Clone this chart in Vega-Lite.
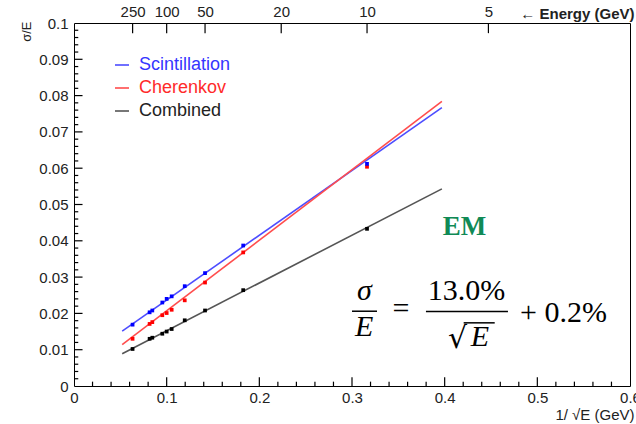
{
  "$schema": "https://vega.github.io/schema/vega-lite/v6.json",
  "width": 556,
  "height": 363,
  "autosize": {"type": "none"},
  "padding": {"left": 74, "top": 23, "right": 6, "bottom": 38},
  "background": "white",
  "config": {
    "view": {"stroke": "#000000", "strokeWidth": 1},
    "axis": {
      "labelFont": "Liberation Sans",
      "titleFont": "Liberation Sans",
      "grid": false,
      "domain": false,
      "ticks": false,
      "labelColor": "#222222",
      "titleColor": "#222222",
      "labelFontSize": 15,
      "titleFontWeight": "normal",
      "labelFlush": false,
      "labelOverlap": false
    }
  },
  "datasets": {
    "fits": [
      {"series": "Scintillation", "x": 0.052, "v": 0.0151},
      {"series": "Scintillation", "x": 0.397, "v": 0.0767},
      {"series": "Cherenkov", "x": 0.052, "v": 0.0114},
      {"series": "Cherenkov", "x": 0.397, "v": 0.0784},
      {"series": "Combined", "x": 0.052, "v": 0.0089},
      {"series": "Combined", "x": 0.397, "v": 0.0543}
    ],
    "pts": [
      {"series": "Combined", "x": 0.0632, "v": 0.0102, "lo": 0.0101, "hi": 0.0103},
      {"series": "Combined", "x": 0.0816, "v": 0.0130, "lo": 0.0129, "hi": 0.0131},
      {"series": "Combined", "x": 0.0845, "v": 0.0133, "lo": 0.0132, "hi": 0.0134},
      {"series": "Combined", "x": 0.0953, "v": 0.0144, "lo": 0.0143, "hi": 0.0145},
      {"series": "Combined", "x": 0.1, "v": 0.0150, "lo": 0.0149, "hi": 0.0151},
      {"series": "Combined", "x": 0.1054, "v": 0.0157, "lo": 0.0156, "hi": 0.0158},
      {"series": "Combined", "x": 0.1195, "v": 0.0181, "lo": 0.0180, "hi": 0.0182},
      {"series": "Combined", "x": 0.1414, "v": 0.0208, "lo": 0.0207, "hi": 0.0209},
      {"series": "Combined", "x": 0.1826, "v": 0.0264, "lo": 0.0263, "hi": 0.0265},
      {"series": "Combined", "x": 0.3162, "v": 0.0433, "lo": 0.0431, "hi": 0.0435},
      {"series": "Cherenkov", "x": 0.0632, "v": 0.0130, "lo": 0.0129, "hi": 0.0131},
      {"series": "Cherenkov", "x": 0.0816, "v": 0.0171, "lo": 0.0170, "hi": 0.0172},
      {"series": "Cherenkov", "x": 0.0845, "v": 0.0176, "lo": 0.0175, "hi": 0.0177},
      {"series": "Cherenkov", "x": 0.0953, "v": 0.0195, "lo": 0.0194, "hi": 0.0196},
      {"series": "Cherenkov", "x": 0.1, "v": 0.0201, "lo": 0.0200, "hi": 0.0202},
      {"series": "Cherenkov", "x": 0.1054, "v": 0.0210, "lo": 0.0209, "hi": 0.0211},
      {"series": "Cherenkov", "x": 0.1195, "v": 0.0236, "lo": 0.0235, "hi": 0.0237},
      {"series": "Cherenkov", "x": 0.1414, "v": 0.0285, "lo": 0.0284, "hi": 0.0286},
      {"series": "Cherenkov", "x": 0.1826, "v": 0.0368, "lo": 0.0366, "hi": 0.0370},
      {"series": "Cherenkov", "x": 0.3162, "v": 0.0604, "lo": 0.0601, "hi": 0.0607},
      {"series": "Scintillation", "x": 0.0632, "v": 0.0169, "lo": 0.0168, "hi": 0.0170},
      {"series": "Scintillation", "x": 0.0816, "v": 0.0203, "lo": 0.0202, "hi": 0.0204},
      {"series": "Scintillation", "x": 0.0845, "v": 0.0208, "lo": 0.0207, "hi": 0.0209},
      {"series": "Scintillation", "x": 0.0953, "v": 0.0230, "lo": 0.0229, "hi": 0.0231},
      {"series": "Scintillation", "x": 0.1, "v": 0.0240, "lo": 0.0239, "hi": 0.0241},
      {"series": "Scintillation", "x": 0.1054, "v": 0.0247, "lo": 0.0246, "hi": 0.0248},
      {"series": "Scintillation", "x": 0.1195, "v": 0.0275, "lo": 0.0274, "hi": 0.0276},
      {"series": "Scintillation", "x": 0.1414, "v": 0.0311, "lo": 0.0310, "hi": 0.0312},
      {"series": "Scintillation", "x": 0.1826, "v": 0.0387, "lo": 0.0385, "hi": 0.0389},
      {"series": "Scintillation", "x": 0.3162, "v": 0.0612, "lo": 0.0608, "hi": 0.0616}
    ],
    "xmaj": [{"p": 0.1}, {"p": 0.2}, {"p": 0.3}, {"p": 0.4}, {"p": 0.5}],
    "xmin": [{"p": 0.02}, {"p": 0.04}, {"p": 0.06}, {"p": 0.08}, {"p": 0.12}, {"p": 0.14}, {"p": 0.16}, {"p": 0.18}, {"p": 0.22}, {"p": 0.24}, {"p": 0.26}, {"p": 0.28}, {"p": 0.32}, {"p": 0.34}, {"p": 0.36}, {"p": 0.38}, {"p": 0.42}, {"p": 0.44}, {"p": 0.46}, {"p": 0.48}, {"p": 0.52}, {"p": 0.54}, {"p": 0.56}, {"p": 0.58}],
    "ymaj": [{"p": 0.01}, {"p": 0.02}, {"p": 0.03}, {"p": 0.04}, {"p": 0.05}, {"p": 0.06}, {"p": 0.07}, {"p": 0.08}, {"p": 0.09}],
    "ymin": [{"p": 0.002}, {"p": 0.004}, {"p": 0.006}, {"p": 0.008}, {"p": 0.012}, {"p": 0.014}, {"p": 0.016}, {"p": 0.018}, {"p": 0.022}, {"p": 0.024}, {"p": 0.026}, {"p": 0.028}, {"p": 0.032}, {"p": 0.034}, {"p": 0.036}, {"p": 0.038}, {"p": 0.042}, {"p": 0.044}, {"p": 0.046}, {"p": 0.048}, {"p": 0.052}, {"p": 0.054}, {"p": 0.056}, {"p": 0.058}, {"p": 0.062}, {"p": 0.064}, {"p": 0.066}, {"p": 0.068}, {"p": 0.072}, {"p": 0.074}, {"p": 0.076}, {"p": 0.078}, {"p": 0.082}, {"p": 0.084}, {"p": 0.086}, {"p": 0.088}, {"p": 0.092}, {"p": 0.094}, {"p": 0.096}, {"p": 0.098}],
    "topt": [{"p": 0.06325}, {"p": 0.1}, {"p": 0.14142}, {"p": 0.22361}, {"p": 0.31623}, {"p": 0.44721}],
    "em": [{"t": "EM", "x": 0.4214, "v": 0.0417}],
    "mathItalic": [
      {"t": "σ", "x": 0.3135, "v": 0.0238},
      {"t": "E", "x": 0.3130, "v": 0.0137},
      {"t": "E", "x": 0.4380, "v": 0.0111}
    ],
    "mathRoman": [
      {"t": "=", "x": 0.3529, "v": 0.0186},
      {"t": "13.0%", "x": 0.4235, "v": 0.0238}
    ],
    "radical": [
      {"t": "√", "x": 0.4140, "v": 0.0104}
    ],
    "mathLeft": [
      {"t": "+ 0.2%", "x": 0.4813, "v": 0.0175}
    ],
    "bars": [
      {"x": 0.3000, "x2": 0.3270, "v": 0.0206},
      {"x": 0.3798, "x2": 0.4683, "v": 0.0205},
      {"x": 0.4205, "x2": 0.4540, "v": 0.0174}
    ]
  },
  "layer": [
    {
      "data": {"name": "xmaj"},
      "mark": {"type": "rule", "strokeWidth": 1.2, "color": "#000000"},
      "encoding": {
        "x": {"field": "p", "type": "quantitative", "scale": {"domain": [0, 0.6], "nice": false, "zero": false}, "axis": null},
        "y": {"datum": 0, "type": "quantitative", "scale": {"domain": [0, 0.1], "nice": false, "zero": false}, "axis": null},
        "y2": {"datum": 0.0024}
      }
    },
    {
      "data": {"name": "xmin"},
      "mark": {"type": "rule", "strokeWidth": 1.2, "color": "#000000"},
      "encoding": {
        "x": {"field": "p", "type": "quantitative", "axis": null},
        "y": {"datum": 0, "type": "quantitative", "axis": null},
        "y2": {"datum": 0.0012}
      }
    },
    {
      "data": {"name": "topt"},
      "mark": {"type": "rule", "strokeWidth": 1.2, "color": "#000000"},
      "encoding": {
        "x": {"field": "p", "type": "quantitative", "axis": null},
        "y": {"datum": 0.1, "type": "quantitative", "axis": null},
        "y2": {"datum": 0.0972}
      }
    },
    {
      "data": {"name": "ymaj"},
      "mark": {"type": "rule", "strokeWidth": 1.2, "color": "#000000"},
      "encoding": {
        "y": {"field": "p", "type": "quantitative", "axis": null},
        "x": {"datum": 0, "type": "quantitative", "axis": null},
        "x2": {"datum": 0.0092}
      }
    },
    {
      "data": {"name": "ymin"},
      "mark": {"type": "rule", "strokeWidth": 1.2, "color": "#000000"},
      "encoding": {
        "y": {"field": "p", "type": "quantitative", "axis": null},
        "x": {"datum": 0, "type": "quantitative", "axis": null},
        "x2": {"datum": 0.0046}
      }
    },
    {
      "data": {"name": "fits"},
      "mark": {"type": "line", "strokeWidth": 1.6},
      "encoding": {
        "x": {"field": "x", "type": "quantitative", "axis": null},
        "y": {"field": "v", "type": "quantitative", "axis": null},
        "color": {"field": "series", "type": "nominal",
          "scale": {"domain": ["Scintillation", "Cherenkov", "Combined"], "range": ["#4d4dff", "#ff4d4d", "#555555"]},
          "legend": {
            "title": null, "orient": "none", "legendX": 39, "legendY": 33,
            "symbolType": "stroke", "symbolSize": 196, "symbolStrokeWidth": 1.6,
            "labelFont": "Liberation Sans", "labelFontSize": 18, "labelOffset": 8,
            "rowPadding": 5, "padding": 0,
            "labelColor": {"expr": "datum.value == 'Scintillation' ? '#3535ff' : datum.value == 'Cherenkov' ? '#ff2a2a' : '#222222'"}
          }}
      }
    },
    {
      "data": {"name": "pts"},
      "mark": {"type": "rule", "strokeWidth": 1.5},
      "encoding": {
        "x": {"field": "x", "type": "quantitative", "axis": null},
        "y": {"field": "lo", "type": "quantitative", "axis": null},
        "y2": {"field": "hi"},
        "stroke": {"field": "series", "type": "nominal",
          "scale": {"domain": ["Scintillation", "Cherenkov", "Combined"], "range": ["#0000ff", "#ff0000", "#000000"]},
          "legend": null}
      }
    },
    {
      "data": {"name": "pts"},
      "mark": {"type": "square", "size": 14, "opacity": 1},
      "encoding": {
        "x": {"field": "x", "type": "quantitative",
          "axis": {"orient": "bottom", "values": [0, 0.1, 0.2, 0.3, 0.4, 0.5, 0.6], "format": "~g",
            "labelPadding": 4,
            "title": "1/ √E (GeV)", "titleFontSize": 15, "titleX": 560, "titleY": 33,
            "titleAlign": "right", "titleBaseline": "alphabetic"}},
        "y": {"field": "v", "type": "quantitative",
          "axis": {"orient": "left", "values": [0, 0.01, 0.02, 0.03, 0.04, 0.05, 0.06, 0.07, 0.08, 0.09, 0.1], "format": "~g",
            "labelPadding": 6,
            "title": "σ/E", "titleFontSize": 13, "titleAngle": 270, "titleX": -48, "titleY": -2,
            "titleAlign": "right", "titleBaseline": "middle"}},
        "fill": {"field": "series", "type": "nominal",
          "scale": {"domain": ["Scintillation", "Cherenkov", "Combined"], "range": ["#0000ff", "#ff0000", "#000000"]},
          "legend": null}
      }
    },
    {
      "data": {"name": "em"},
      "mark": {"type": "text", "font": "Liberation Serif", "fontWeight": "bold", "fontSize": 27, "color": "#108a56", "baseline": "alphabetic", "align": "center"},
      "encoding": {
        "x": {"field": "x", "type": "quantitative",
          "axis": {"orient": "top", "values": [0.06325, 0.1, 0.14142, 0.22361, 0.31623, 0.44721],
            "labelExpr": "format(1/(datum.value*datum.value), '.0f')",
            "labelPadding": 4,
            "title": "← Energy (GeV)", "titleFontSize": 15, "titleFontWeight": "bold",
            "titleX": 560, "titleY": -10, "titleAlign": "right", "titleBaseline": "middle"}},
        "y": {"field": "v", "type": "quantitative", "axis": null},
        "text": {"field": "t"}
      }
    },
    {
      "data": {"name": "mathItalic"},
      "mark": {"type": "text", "font": "Liberation Serif", "fontStyle": "italic", "fontSize": 30, "color": "#000000", "baseline": "alphabetic", "align": "center"},
      "encoding": {
        "x": {"field": "x", "type": "quantitative", "axis": null},
        "y": {"field": "v", "type": "quantitative", "axis": null},
        "text": {"field": "t"}
      }
    },
    {
      "data": {"name": "mathRoman"},
      "mark": {"type": "text", "font": "Liberation Serif", "fontSize": 30, "color": "#000000", "baseline": "alphabetic", "align": "center"},
      "encoding": {
        "x": {"field": "x", "type": "quantitative", "axis": null},
        "y": {"field": "v", "type": "quantitative", "axis": null},
        "text": {"field": "t"}
      }
    },
    {
      "data": {"name": "radical"},
      "mark": {"type": "text", "font": "DejaVu Serif", "fontSize": 30, "color": "#000000", "baseline": "alphabetic", "align": "center"},
      "encoding": {
        "x": {"field": "x", "type": "quantitative", "axis": null},
        "y": {"field": "v", "type": "quantitative", "axis": null},
        "text": {"field": "t"}
      }
    },
    {
      "data": {"name": "mathLeft"},
      "mark": {"type": "text", "font": "Liberation Serif", "fontSize": 30, "color": "#000000", "baseline": "alphabetic", "align": "left"},
      "encoding": {
        "x": {"field": "x", "type": "quantitative", "axis": null},
        "y": {"field": "v", "type": "quantitative", "axis": null},
        "text": {"field": "t"}
      }
    },
    {
      "data": {"name": "bars"},
      "mark": {"type": "rule", "strokeWidth": 1.5, "color": "#000000"},
      "encoding": {
        "x": {"field": "x", "type": "quantitative", "axis": null},
        "x2": {"field": "x2"},
        "y": {"field": "v", "type": "quantitative", "axis": null}
      }
    }
  ],
  "resolve": {"axis": {"x": "independent", "y": "independent"}}
}
